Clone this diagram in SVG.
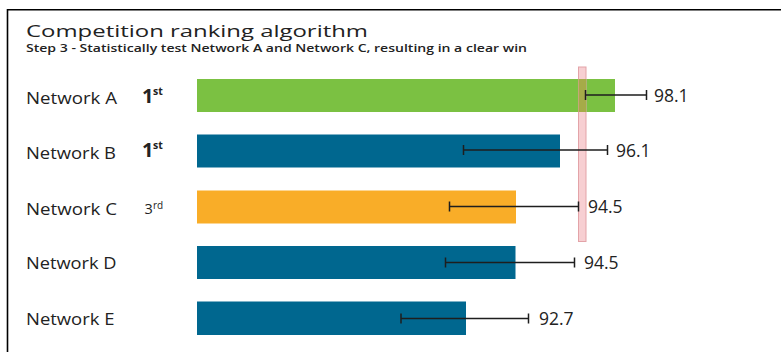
<svg xmlns="http://www.w3.org/2000/svg" width="781" height="352" viewBox="0 0 781 352">
  <style>
    text { font-family: "Open Sans", "Liberation Sans", sans-serif; fill: #222; }
    .title { font-size: 17px; font-weight: 400; }
    .sub { font-size: 11.5px; font-weight: 600; }
    .name { font-size: 15.5px; font-weight: 500; }
    .rank { font-size: 20px; font-weight: 700; }
    .sup { font-size: 10.5px; font-weight: 700; }
    .rank3 { font-size: 14.5px; }
    .sup3 { font-size: 10px; }
    .val { font-size: 17.5px; font-weight: 500; }
    .err { stroke: #1e1e1e; stroke-width: 1.5; fill: none; }
    .green { fill: #7bc142; }
    .blue { fill: #00678f; }
    .orange { fill: #f9ad28; }
  </style>
  <rect width="781" height="352" fill="#fff"/>
  <path d="M7.5 352 V9.75 H781" stroke="#000" stroke-width="1.6" fill="none"/>
  <text class="title" x="26" y="37" textLength="342" lengthAdjust="spacingAndGlyphs">Competition ranking algorithm</text>
  <text class="sub" x="26" y="51.5" textLength="501" lengthAdjust="spacingAndGlyphs">Step 3 - Statistically test Network A and Network C, resulting in a clear win</text>

  <g id="networkA">
    <text class="name" x="26" y="104" textLength="91" lengthAdjust="spacingAndGlyphs">Network A</text>
    <text class="rank" x="142" y="102.7">1</text>
    <text class="sup" x="153" y="94.5">st</text>
    <rect class="green" x="197" y="79" width="418" height="33"/>
  </g>
  <g id="networkB">
    <text class="name" x="26" y="158.5" textLength="90" lengthAdjust="spacingAndGlyphs">Network B</text>
    <text class="rank" x="142" y="156.5">1</text>
    <text class="sup" x="153" y="148.5">st</text>
    <rect class="blue" x="197" y="134.5" width="363" height="33"/>
  </g>
  <g id="networkC">
    <text class="name" x="26" y="214.5" textLength="91" lengthAdjust="spacingAndGlyphs">Network C</text>
    <text class="rank3" x="144.5" y="214">3</text>
    <text class="sup3" x="153" y="208.5">rd</text>
    <rect class="orange" x="197" y="190.5" width="319" height="33"/>
  </g>
  <g id="networkD">
    <text class="name" x="26" y="268.5" textLength="90.5" lengthAdjust="spacingAndGlyphs">Network D</text>
    <rect class="blue" x="197" y="246" width="318.5" height="33"/>
  </g>
  <g id="networkE">
    <text class="name" x="26" y="324.5" textLength="88.5" lengthAdjust="spacingAndGlyphs">Network E</text>
    <rect class="blue" x="197" y="301.5" width="269" height="33.5"/>
  </g>

  <g id="threshold">
    <rect x="578.5" y="67" width="7.5" height="174.5" fill="#f7cfd2" stroke="#e3a3a8" stroke-width="1"/>
    <rect x="578.5" y="79" width="7.5" height="33" fill="#a6ab48"/>
  </g>

  <g id="connectors">
    <path class="err" d="M585.5 95 H646.5 M585.5 90 V100 M646.5 90 V100"/>
    <path class="err" d="M463.5 150 H607.5 M463.5 145 V155 M607.5 145 V155"/>
    <path class="err" d="M449.5 206.5 H578.5 M449.5 201.5 V211.5 M578.5 201.5 V211.5"/>
    <path class="err" d="M445.5 262.5 H574.5 M445.5 257.5 V267.5 M574.5 257.5 V267.5"/>
    <path class="err" d="M401 318.5 H528.5 M401 313.5 V323.5 M528.5 313.5 V323.5"/>
  </g>

  <g id="values">
    <text class="val" x="654" y="101.5">98.1</text>
    <text class="val" x="616" y="156.5">96.1</text>
    <text class="val" x="588" y="213">94.5</text>
    <text class="val" x="584" y="269">94.5</text>
    <text class="val" x="539" y="325">92.7</text>
  </g>
</svg>
